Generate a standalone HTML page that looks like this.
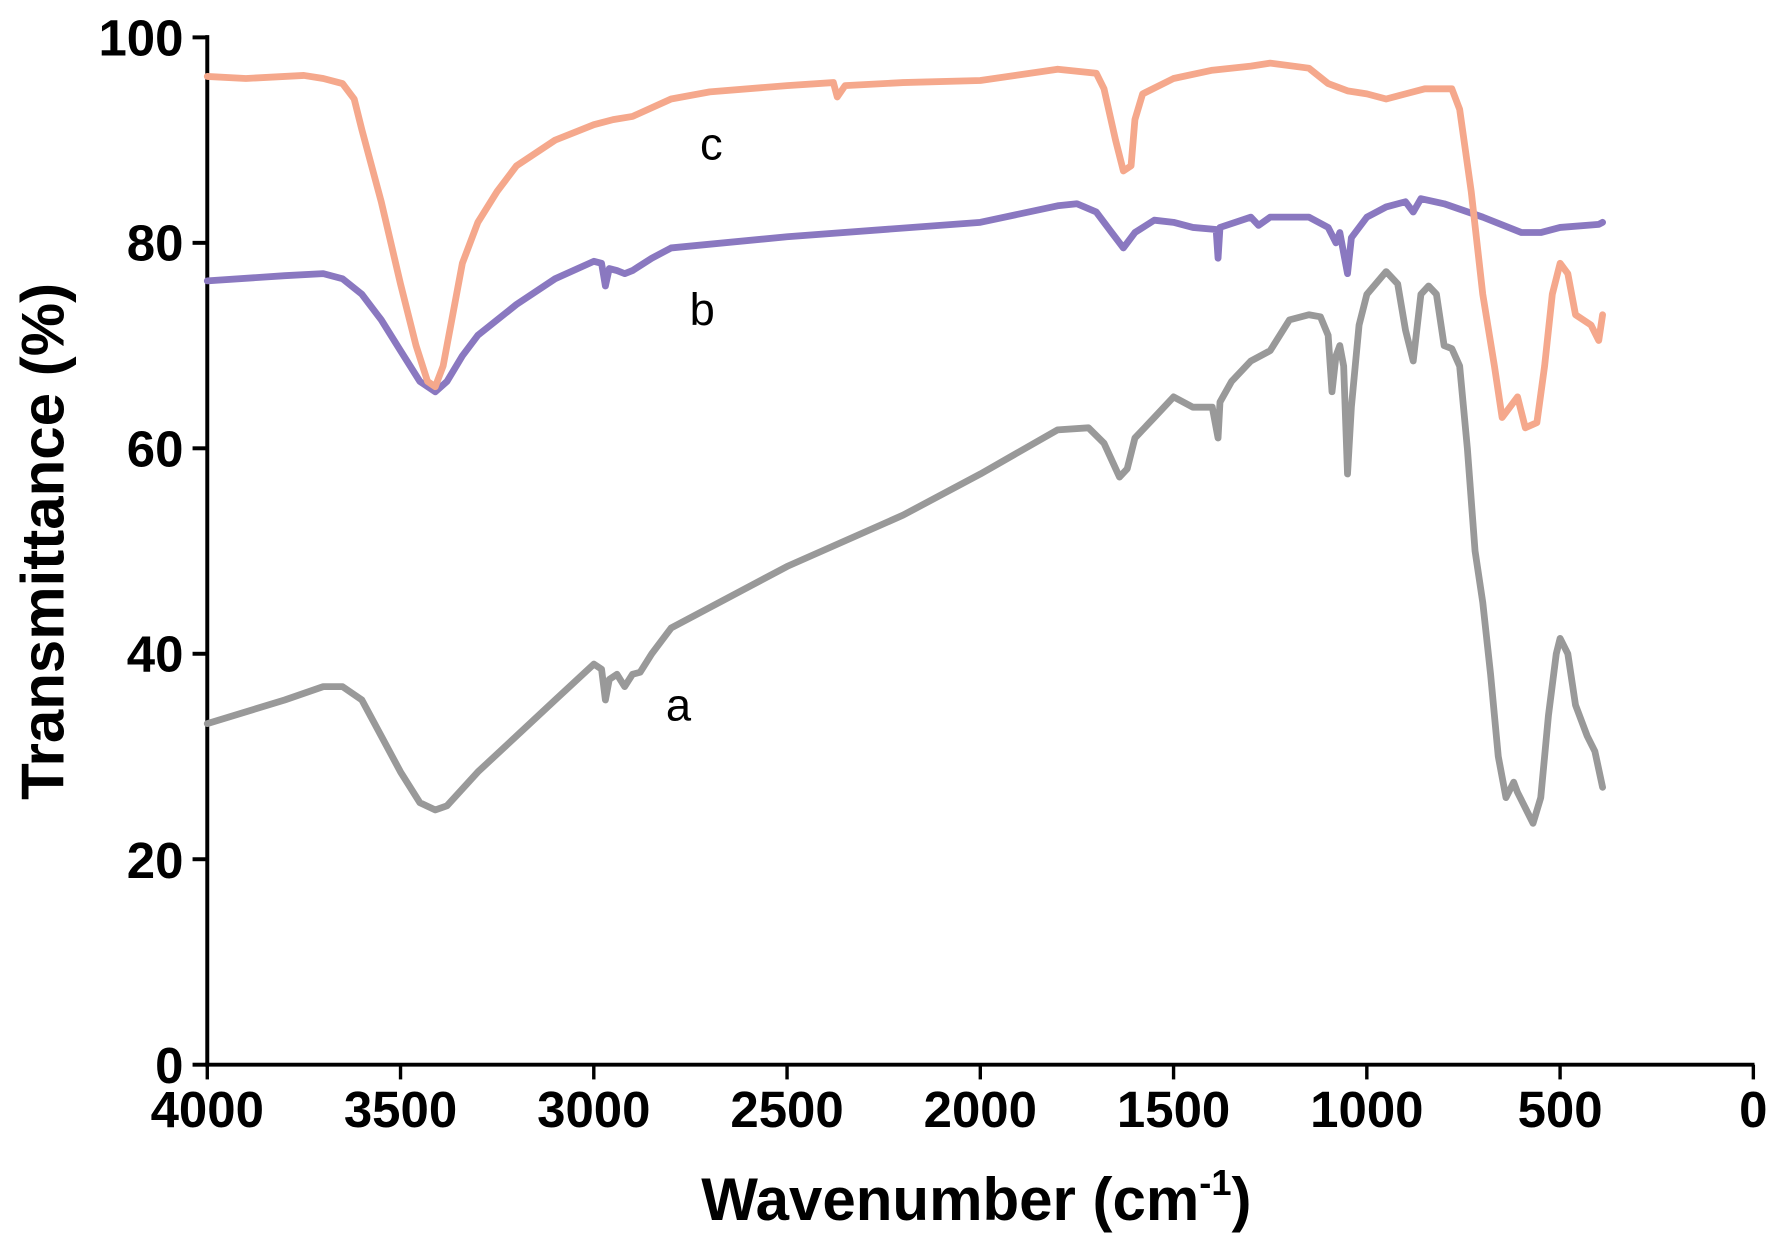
<!DOCTYPE html>
<html><head><meta charset="utf-8"><style>
html,body{margin:0;padding:0;background:#fff;}
svg{display:block;}
text{font-family:"Liberation Sans",Arial,sans-serif;}
</style></head><body>
<svg id="s" width="1776" height="1250" viewBox="0 0 1568 1103.6" preserveAspectRatio="none" xmlns="http://www.w3.org/2000/svg">
<rect width="1568" height="1104" fill="#fff"/>
<g stroke="#000" stroke-width="3.5" fill="none">
<line x1="183" y1="31" x2="183" y2="941"/>
<line x1="181" y1="940" x2="1549" y2="940"/>
<line x1="170" y1="33" x2="183" y2="33"/>
<line x1="170" y1="214.4" x2="183" y2="214.4"/>
<line x1="170" y1="395.8" x2="183" y2="395.8"/>
<line x1="170" y1="577.2" x2="183" y2="577.2"/>
<line x1="170" y1="758.6" x2="183" y2="758.6"/>
<line x1="170" y1="940" x2="183" y2="940"/>
</g>
<g id="xt" stroke="#000" stroke-width="3" fill="none"></g>
<g font-size="45" font-weight="bold" text-anchor="end" fill="#000">
<text x="162" y="49">100</text>
<text x="162" y="230">80</text>
<text x="162" y="412">60</text>
<text x="162" y="593">40</text>
<text x="162" y="775">20</text>
<text x="162" y="956">0</text>
</g>
<g id="xl" font-size="45" font-weight="bold" text-anchor="middle" fill="#000"></g>
<text x="862" y="1077" font-size="53" font-weight="bold" text-anchor="middle">Wavenumber (cm<tspan font-size="32" dy="-22">-1</tspan><tspan dy="22">)</tspan></text>
<text transform="translate(56,478) rotate(-90)" font-size="53" font-weight="bold" text-anchor="middle">Transmittance (%)</text>
<g font-size="40" fill="#000" text-anchor="middle">
<text x="628" y="141">c</text>
<text x="620" y="287">b</text>
<text x="599" y="636">a</text>
</g>
<g id="curves" fill="none" stroke-width="6" stroke-linejoin="round" stroke-linecap="round"></g>
</svg>
<script>
var X=function(w){return 183+(4000-w)*0.34125;},Y=function(t){return 940-t*9.07;};
var ns="http://www.w3.org/2000/svg";
var xt=document.getElementById('xt'),xl=document.getElementById('xl');
for(var w=4000;w>=0;w-=500){var l=document.createElementNS(ns,'line');l.setAttribute('x1',X(w));l.setAttribute('x2',X(w));l.setAttribute('y1',940);l.setAttribute('y2',953);xt.appendChild(l);
var t=document.createElementNS(ns,'text');t.setAttribute('x',X(w));t.setAttribute('y',995);t.textContent=w;xl.appendChild(t);}
var c=[4000,96.2,3900,96,3800,96.2,3750,96.3,3700,96,3650,95.5,3620,94,3600,91,3550,84,3500,76,3460,70,3430,66.5,3410,66,3390,68,3370,72,3340,78,3300,82,3250,85,3200,87.5,3100,90,3000,91.5,2950,92,2900,92.3,2800,94,2700,94.7,2500,95.3,2380,95.6,2370,94.2,2350,95.3,2200,95.6,2000,95.8,1800,96.9,1700,96.5,1680,95,1650,90,1630,87,1610,87.5,1600,92,1580,94.5,1500,96,1400,96.8,1300,97.2,1250,97.5,1150,97,1100,95.5,1050,94.8,1000,94.5,950,94,900,94.5,850,95,780,95,760,93,730,85,700,75,670,68,650,63,630,64,610,65,590,62,560,62.5,540,68,520,75,500,78,480,77,460,73,420,72,400,70.5,390,73];
var b=[4000,76.3,3800,76.8,3700,77,3650,76.5,3600,75,3550,72.5,3500,69.5,3450,66.5,3410,65.5,3380,66.5,3340,69,3300,71,3200,74,3100,76.5,3000,78.2,2980,78,2970,75.8,2960,77.5,2940,77.3,2920,77,2900,77.3,2850,78.5,2800,79.5,2500,80.6,2000,82,1800,83.6,1750,83.8,1700,83,1660,81,1630,79.5,1600,81,1550,82.2,1500,82,1450,81.5,1390,81.3,1385,78.5,1380,81.5,1300,82.5,1280,81.7,1250,82.5,1150,82.5,1100,81.5,1080,80,1070,81,1050,77,1040,80.5,1000,82.5,950,83.5,900,84,880,83,860,84.3,800,83.8,700,82.5,600,81,550,81,500,81.5,400,81.8,390,82];
var a=[4000,33.2,3800,35.5,3700,36.8,3650,36.8,3600,35.5,3550,32,3500,28.5,3450,25.5,3410,24.8,3380,25.2,3300,28.5,3200,32,3100,35.5,3000,39,2980,38.5,2970,35.5,2960,37.5,2940,38,2920,36.8,2900,38,2880,38.2,2850,40,2800,42.5,2500,48.5,2200,53.5,2000,57.5,1800,61.8,1720,62,1680,60.5,1640,57.2,1620,58,1600,61,1550,63,1500,65,1450,64,1400,64,1385,61,1380,64.5,1350,66.5,1300,68.5,1250,69.5,1200,72.5,1150,73,1120,72.8,1100,71,1090,65.5,1080,69,1070,70,1060,68,1050,57.5,1040,64,1020,72,1000,75,950,77.2,920,76,900,71.5,880,68.5,860,75,840,75.8,820,75,800,70,780,69.7,760,68,740,60,720,50,700,45,680,38,660,30,640,26,620,27.5,610,26.5,590,25,570,23.5,550,26,530,34,510,40,500,41.5,480,40,460,35,430,32,410,30.5,390,27];
var g=document.getElementById('curves');
[[a,'#999999'],[b,'#8a78c0'],[c,'#f5a88c']].forEach(function(p){var d='';for(var i=0;i<p[0].length;i+=2){d+=(i?'L':'M')+X(p[0][i]).toFixed(1)+','+Y(p[0][i+1]).toFixed(1);}
var e=document.createElementNS(ns,'path');e.setAttribute('d',d);e.setAttribute('stroke',p[1]);g.appendChild(e);});
</script>
</body></html>
